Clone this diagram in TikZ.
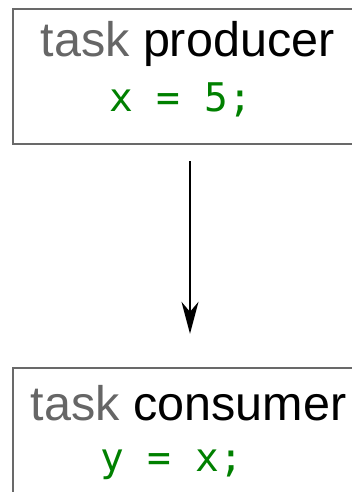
\documentclass[tikz,border=0pt]{standalone}
\usepackage{fontspec}
\setmainfont{Liberation Sans}
\setmonofont{DejaVu Sans Mono}
\usetikzlibrary{positioning, arrows.meta}
\definecolor{taskgray}{HTML}{666666}
\definecolor{codegreen}{HTML}{008000}
\definecolor{boxgray}{HTML}{696969}

\begin{document}
\begin{tikzpicture}[
    x=1pt, y=1pt,
    % Styles
    task/.style={ % Task box
        rectangle,
        draw=boxgray,
        line width=2.4pt,
        minimum width=354pt,
        minimum height=135pt,
        inner sep=0pt
    },
    title/.style={ % Task name
        anchor=base,
        inner sep=0pt,
        font=\fontsize{48.5}{52}\selectfont
    },
    code/.style={ % Code line
        anchor=base,
        inner sep=0pt,
        text=codegreen,
        font=\ttfamily\fontsize{39.5}{42}\selectfont
    },
    arrow/.style={
        -{Stealth[length=32pt, width=17pt, inset=10pt]},
        line width=1.5pt
    }
]
    \useasboundingbox (0,0) rectangle (352,-492);
    \clip (0,0) rectangle (352,-492);

    % Producer
    \node at (190,-76.5) [task] (producer) {};
    \node at (187.5,-57) [title] (producer_title) {\textcolor{taskgray}{task} producer};
    \node at (180.5,-111) [code] (producer_code) {x = 5;};

    % Consumer
    \node at (190,-435.5) [task] (consumer) {};
    \node at (188.5,-420) [title] (consumer_title) {\textcolor{taskgray}{task} consumer};
    \node at (171.5,-471) [code] (consumer_code) {y = x;};

    % Producer -> Consumer
    \draw [arrow, shorten <=16pt, shorten >=33pt] (producer) -- (consumer);
\end{tikzpicture}
\end{document}
